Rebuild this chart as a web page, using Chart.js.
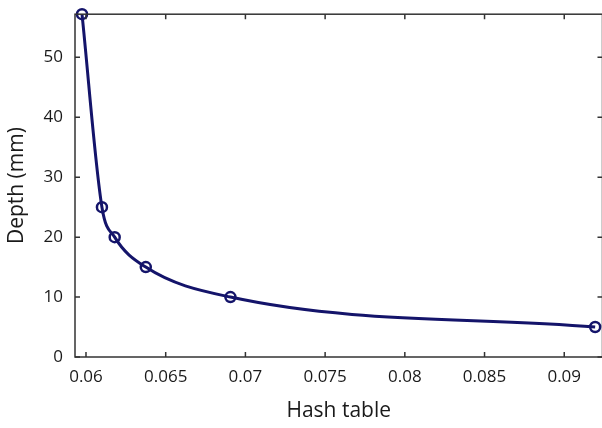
<!DOCTYPE html>
<html>
<head>
<meta charset="utf-8">
<script src="https://cdn.jsdelivr.net/npm/chart.js@4/dist/chart.umd.min.js"></script>
<style>
    html, body { margin: 0; padding: 0; background: #fff; overflow: hidden; }
    #wrap { width: 610px; height: 428px; }
</style>
</head>
<body>
<div id="wrap"><canvas id="depthChart"></canvas></div>
<script>
// values
const hashTable = [0.05975, 0.0610, 0.0618, 0.06375, 0.06906, 0.09194];
const depthMm = [57.2, 25, 20, 15, 10, 5];
const xTickValues = [0.06, 0.065, 0.07, 0.075, 0.08, 0.085, 0.09];
const yTickValues = [0, 10, 20, 30, 40, 50];

const navy = '#14146a';
const axisColor = '#333';
const font = "'Open Sans', 'Liberation Sans', sans-serif";

// box around the plot with inward ticks (matlab style)
const boxAxes = {
    id: 'boxAxes',
    afterDraw(chart) {
        const { ctx, chartArea: a, scales } = chart;
        ctx.save();
        ctx.strokeStyle = axisColor;
        ctx.lineWidth = 1.5;
        ctx.strokeRect(a.left, a.top, a.right - a.left, a.bottom - a.top);
        ctx.beginPath();
        scales.x.ticks.forEach(t => {
            const px = scales.x.getPixelForValue(t.value);
            ctx.moveTo(px, a.bottom); ctx.lineTo(px, a.bottom - 5);
            ctx.moveTo(px, a.top); ctx.lineTo(px, a.top + 5);
        });
        scales.y.ticks.forEach(t => {
            const py = scales.y.getPixelForValue(t.value);
            ctx.moveTo(a.left, py); ctx.lineTo(a.left + 5, py);
            ctx.moveTo(a.right, py); ctx.lineTo(a.right - 5, py);
        });
        ctx.stroke();
        ctx.restore();
    }
};

new Chart(document.getElementById('depthChart'), {
    type: 'scatter',
    data: {
        datasets: [{
            data: hashTable.map((x, i) => ({ x: x, y: depthMm[i] })),
            showLine: true,
            cubicInterpolationMode: 'monotone',
            borderColor: navy,
            borderWidth: 3,
            pointRadius: 5,
            pointBorderWidth: 2.5,
            pointBorderColor: navy,
            pointBackgroundColor: 'rgba(0,0,0,0)',
            clip: false
        }]
    },
    options: {
        responsive: true,
        maintainAspectRatio: false,
        animation: false,
        layout: { padding: { top: 14, right: 6, left: 0, bottom: 0 } },
        plugins: { legend: { display: false }, tooltip: { enabled: false } },
        scales: {
            x: {
                type: 'linear',
                min: 0.05931,
                max: 0.0924,
                afterBuildTicks: s => { s.ticks = xTickValues.map(v => ({ value: v })); },
                afterFit: s => { s.height = 71; },
                grid: { display: false },
                border: { display: false },
                ticks: {
                    color: '#1a1a1a',
                    font: { family: font, size: 17 },
                    padding: 2,
                    maxRotation: 0,
                    callback: v => String(v)
                },
                title: {
                    display: true,
                    text: 'Hash table',
                    color: '#1a1a1a',
                    font: { family: font, size: 21 },
                    padding: { top: 5 }
                }
            },
            y: {
                min: 0,
                max: 57.2,
                afterBuildTicks: s => { s.ticks = yTickValues.map(v => ({ value: v })); },
                afterFit: s => { s.width = 75; },
                grid: { display: false },
                border: { display: false },
                ticks: {
                    color: '#1a1a1a',
                    font: { family: font, size: 17 },
                    padding: 4
                },
                title: {
                    display: true,
                    text: 'Depth (mm)',
                    color: '#1a1a1a',
                    font: { family: font, size: 21 },
                    padding: { top: 4, bottom: 0 }
                }
            }
        }
    },
    plugins: [boxAxes]
});
</script>
</body>
</html>
